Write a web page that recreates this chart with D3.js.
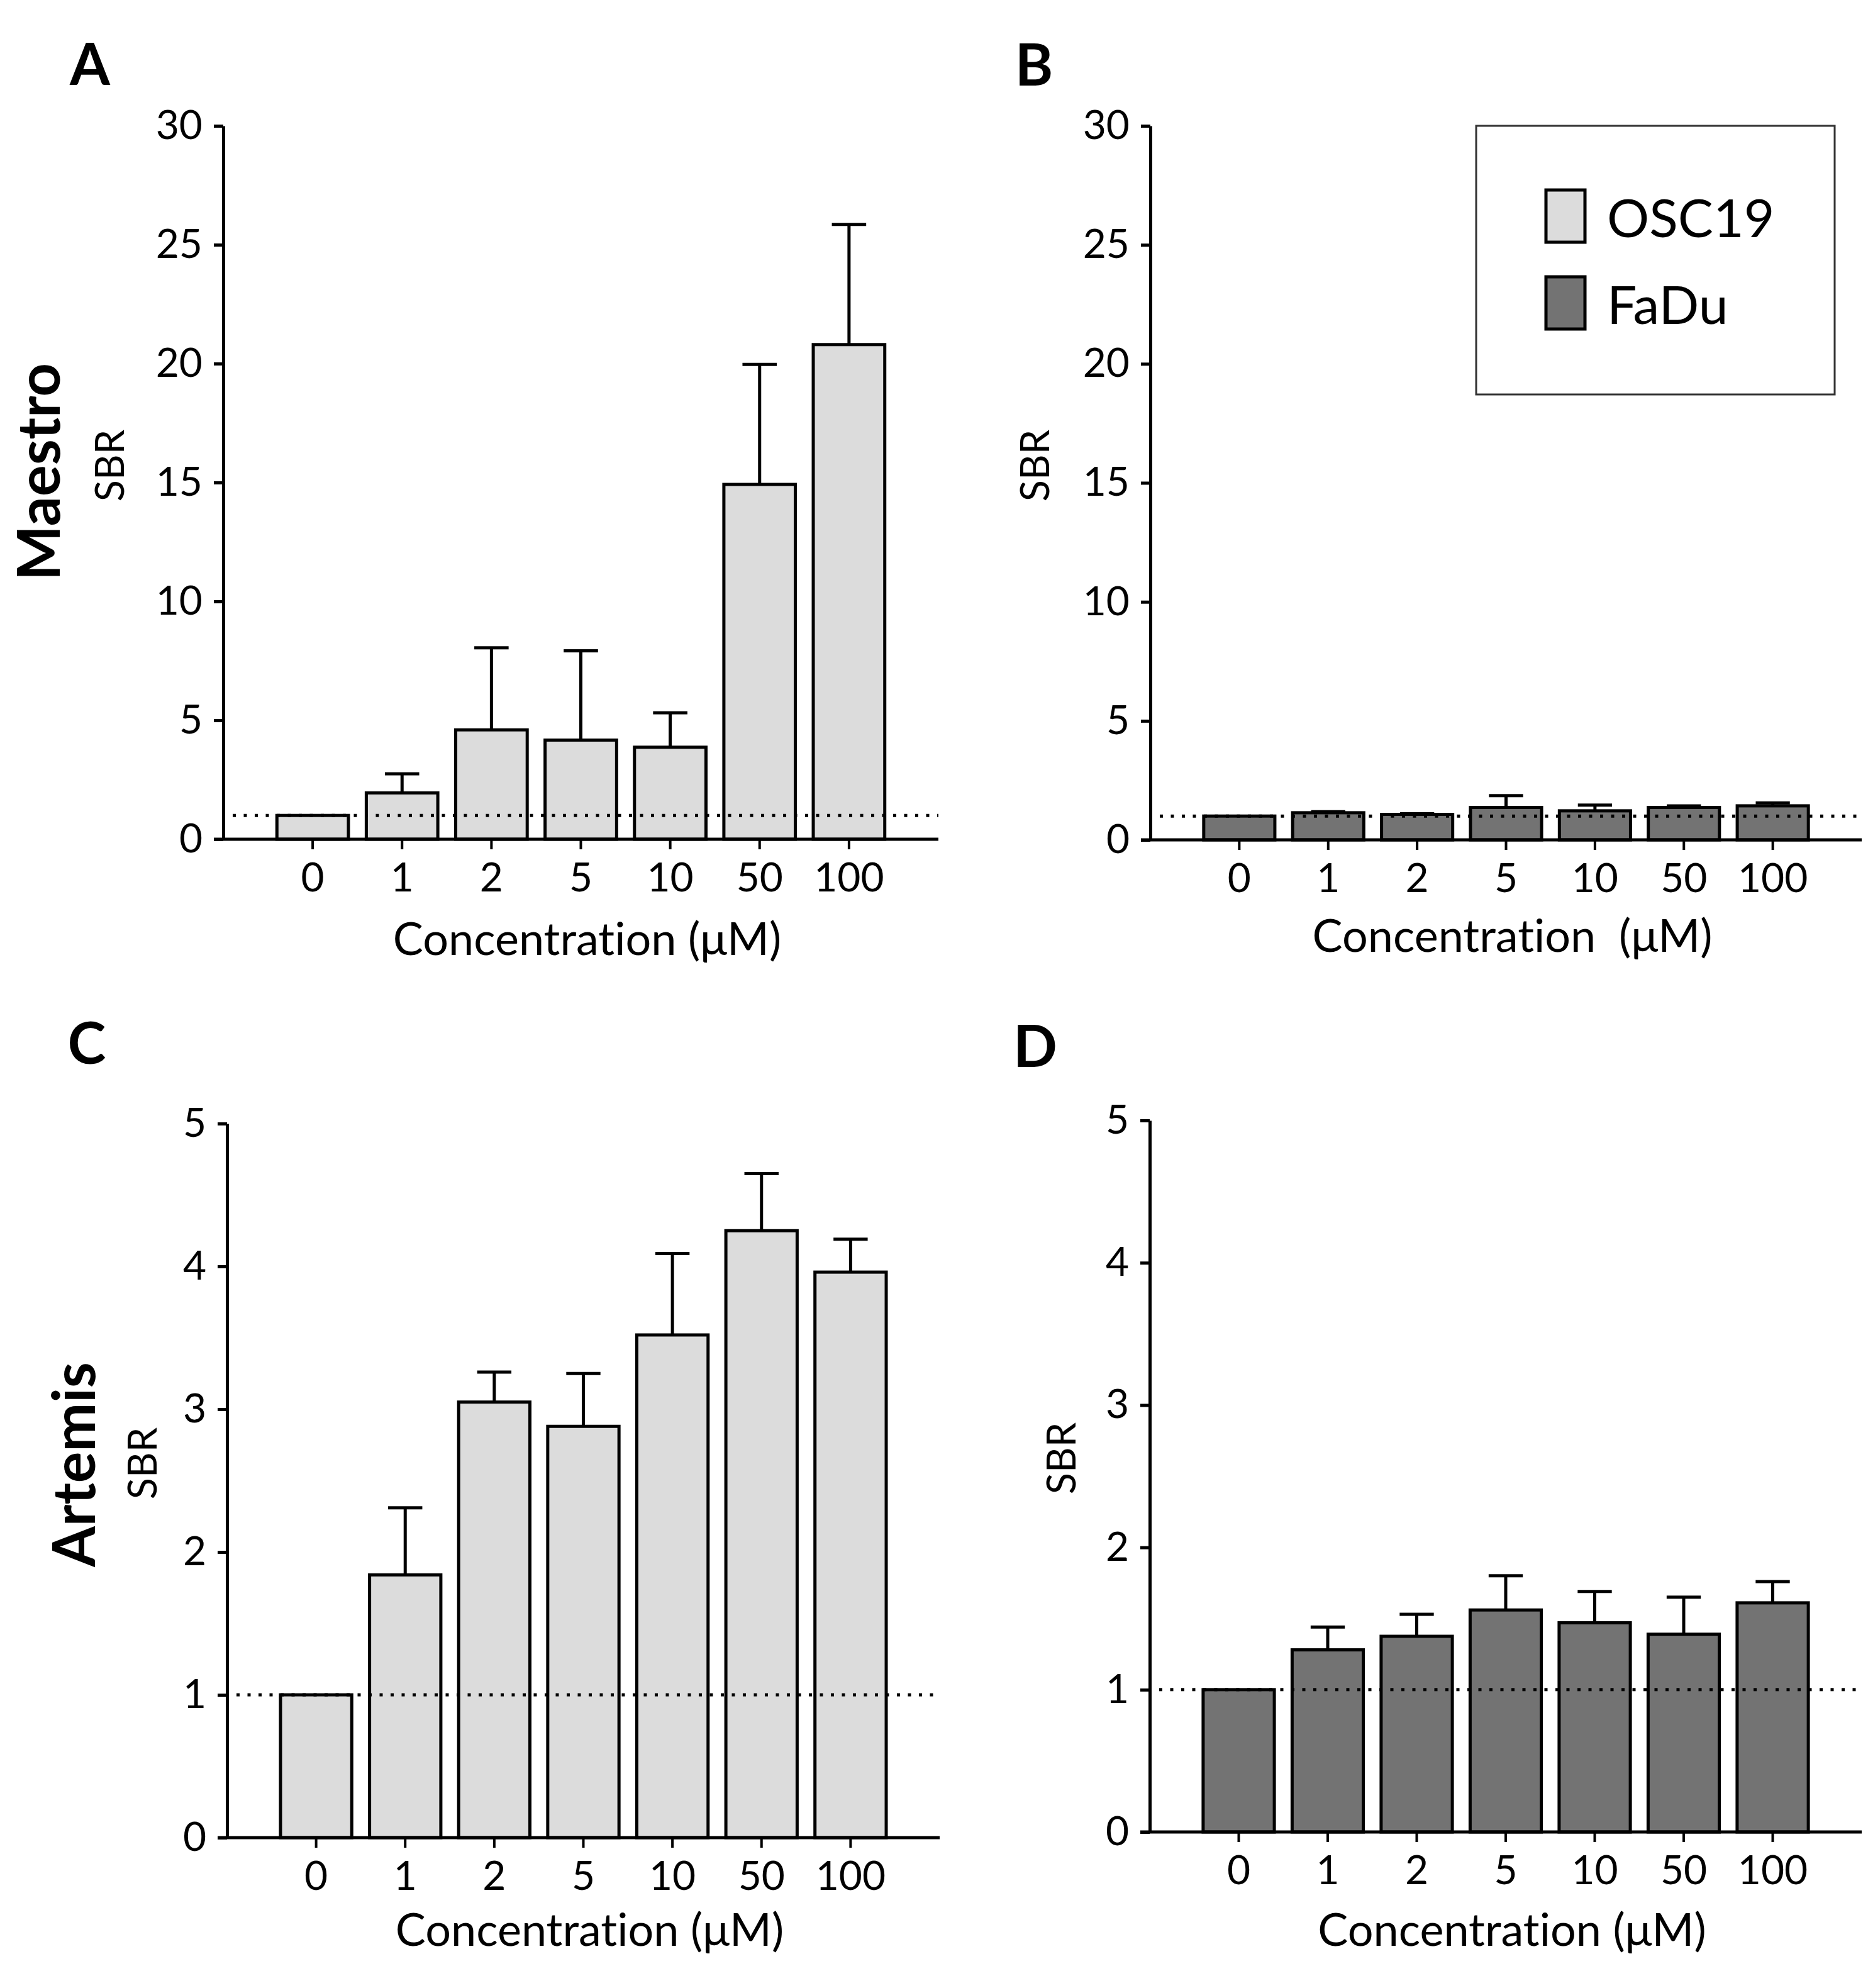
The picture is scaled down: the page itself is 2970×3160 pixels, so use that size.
<!DOCTYPE html>
<html>
<head>
<meta charset="utf-8">
<script src="https://cdn.jsdelivr.net/npm/d3@7"></script>
<style>
  body { margin: 0; background: #fff; }
  text { font-family: Lato, "Open Sans", sans-serif; fill: #000; font-variant-ligatures: none; font-feature-settings: "liga" 0, "clig" 0; }
</style>
</head>
<body>
<div id="fig"></div>
<script>
// concentrations (uM) on the x axis
var concentrations = ["0", "1", "2", "5", "10", "50", "100"];

// SBR means and upper SD
var maestroOSC19    = [1.0, 1.95, 4.6, 4.17, 3.87, 14.92, 20.8];
var maestroOSC19Err = [0, 0.8, 3.45, 3.75, 1.45, 5.05, 5.05];
var maestroFaDu     = [1.0, 1.14, 1.07, 1.36, 1.22, 1.36, 1.43];
var maestroFaDuErr  = [0, 0.04, 0.03, 0.5, 0.24, 0.07, 0.12];
var artemisOSC19    = [1.0, 1.84, 3.05, 2.88, 3.52, 4.25, 3.96];
var artemisOSC19Err = [0, 0.47, 0.21, 0.37, 0.57, 0.4, 0.23];
var artemisFaDu     = [1.0, 1.28, 1.375, 1.56, 1.47, 1.39, 1.61];
var artemisFaDuErr  = [0, 0.16, 0.155, 0.24, 0.22, 0.26, 0.15];

var maestroTicks = [0, 5, 10, 15, 20, 25, 30];
var artemisTicks = [0, 1, 2, 3, 4, 5];

var legendLabels = ["OSC19", "FaDu"];
var lightFill = "#dcdcdc";
var darkFill = "#737373";

var svgWidth = 2970, svgHeight = 3160;
var svg = d3.select("#fig").append("svg")
    .attr("width", svgWidth).attr("height", svgHeight);
svg.append("rect").attr("width", svgWidth).attr("height", svgHeight).attr("fill", "#fff");

function panel(p) {
    var g = svg.append("g");

    var step = (p.x1 - p.x0) / 8;
    var x = d3.scaleBand()
        .domain(concentrations)
        .range([p.x0 + step / 2, p.x1 - step / 2])
        .paddingInner(0.2)
        .paddingOuter(0.1);
    var y = d3.scaleLinear()
        .domain([0, p.ticks[p.ticks.length - 1]])
        .range([p.yZero, p.yTop]);

    // bars
    g.selectAll(".bar").data(p.values).enter().append("rect")
        .attr("x", function(d, i) { return x(concentrations[i]); })
        .attr("y", function(d) { return y(d); })
        .attr("width", x.bandwidth())
        .attr("height", function(d) { return y(0) - y(d); })
        .attr("fill", p.fill)
        .attr("stroke", "#000")
        .attr("stroke-width", 5);

    // error bars (upper only)
    var capW = x.bandwidth() * 0.48;
    p.values.forEach(function(v, i) {
        if (!p.errors[i]) return;
        var cx = x(concentrations[i]) + x.bandwidth() / 2;
        g.append("line")
            .attr("x1", cx).attr("x2", cx)
            .attr("y1", y(v)).attr("y2", y(v + p.errors[i]))
            .attr("stroke", "#000").attr("stroke-width", 5);
        g.append("line")
            .attr("x1", cx - capW / 2).attr("x2", cx + capW / 2)
            .attr("y1", y(v + p.errors[i])).attr("y2", y(v + p.errors[i]))
            .attr("stroke", "#000").attr("stroke-width", 5);
    });

    // baseline SBR = 1
    g.append("line")
        .attr("x1", p.x0 + 15).attr("x2", p.x1)
        .attr("y1", y(1)).attr("y2", y(1))
        .attr("stroke", "#000").attr("stroke-width", 5)
        .attr("stroke-dasharray", "5,12.5");

    // y axis
    var yAxis = g.append("g")
        .attr("transform", "translate(" + p.x0 + ",0)")
        .call(d3.axisLeft(y).tickValues(p.ticks).tickFormat(d3.format("d"))
            .tickSize(15).tickPadding(18).tickSizeOuter(0));
    yAxis.select(".domain").attr("stroke-width", 5);
    yAxis.selectAll(".tick line").attr("stroke-width", 5);
    yAxis.selectAll("text").style("font-size", "64px").attr("fill", "#000");

    // x axis
    var xAxis = g.append("g")
        .attr("transform", "translate(0," + p.yZero + ")")
        .call(d3.axisBottom(x).tickSize(16).tickPadding(22).tickSizeOuter(0));
    xAxis.select(".domain").attr("d", "M" + (p.x0 - 15) + ",0H" + p.x1).attr("stroke-width", 5);
    xAxis.selectAll(".tick line").attr("stroke-width", 4);
    xAxis.selectAll("text").style("font-size", "64px").attr("fill", "#000");

    // axis titles
    g.append("text")
        .attr("x", (p.x0 + p.x1) / 2 + 10)
        .attr("y", p.titleY)
        .attr("text-anchor", "middle")
        .style("font-size", "72px")
        .style("white-space", "pre")
        .text(p.xTitle);

    g.append("text")
        .attr("transform", "translate(" + p.sbrX + "," + p.sbrY + ") rotate(-90)")
        .attr("text-anchor", "middle")
        .style("font-size", "63px")
        .text("SBR");

    if (p.device) {
        g.append("text")
            .attr("transform", "translate(" + p.deviceX + "," + p.deviceY + ") rotate(-90)")
            .attr("text-anchor", "middle")
            .style("font-size", "93px")
            .style("font-weight", 700)
            .text(p.device);
    }

    g.append("text")
        .attr("x", p.letterX).attr("y", p.letterY)
        .attr("text-anchor", "middle")
        .style("font-size", "92px")
        .style("font-weight", 700)
        .text(p.letter);
}

panel({ letter: "A", letterX: 143, letterY: 135,
        x0: 355, x1: 1492, yTop: 200, yZero: 1334, ticks: maestroTicks,
        values: maestroOSC19, errors: maestroOSC19Err, fill: lightFill,
        xTitle: "Concentration (\u03bcM)", titleY: 1518,
        sbrX: 197, sbrY: 740, device: "Maestro", deviceX: 95, deviceY: 750 });

panel({ letter: "B", letterX: 1644, letterY: 136,
        x0: 1829, x1: 2960, yTop: 200, yZero: 1335, ticks: maestroTicks,
        values: maestroFaDu, errors: maestroFaDuErr, fill: darkFill,
        xTitle: "Concentration  (\u03bcM)", titleY: 1513,
        sbrX: 1668, sbrY: 740 });

panel({ letter: "C", letterX: 138, letterY: 1691,
        x0: 361, x1: 1494, yTop: 1786, yZero: 2921, ticks: artemisTicks,
        values: artemisOSC19, errors: artemisOSC19Err, fill: lightFill,
        xTitle: "Concentration (\u03bcM)", titleY: 3093,
        sbrX: 249, sbrY: 2326, device: "Artemis", deviceX: 151, deviceY: 2328 });

panel({ letter: "D", letterX: 1646, letterY: 1696,
        x0: 1828, x1: 2960, yTop: 1781, yZero: 2912, ticks: artemisTicks,
        values: artemisFaDu, errors: artemisFaDuErr, fill: darkFill,
        xTitle: "Concentration (\u03bcM)", titleY: 3093,
        sbrX: 1710, sbrY: 2318 });

// legend in panel B
var legend = svg.append("g");
legend.append("rect")
    .attr("x", 2347).attr("y", 200).attr("width", 570).attr("height", 427)
    .attr("fill", "#fff").attr("stroke", "#333").attr("stroke-width", 3);
var legendFills = [lightFill, darkFill];
legendLabels.forEach(function(label, i) {
    legend.append("rect")
        .attr("x", 2458).attr("y", 302 + i * 138)
        .attr("width", 62).attr("height", 83)
        .attr("fill", legendFills[i]).attr("stroke", "#000").attr("stroke-width", 5);
    legend.append("text")
        .attr("x", 2555).attr("y", 377 + i * 138)
        .style("font-size", "84px")
        .text(label);
});
</script>
</body>
</html>
